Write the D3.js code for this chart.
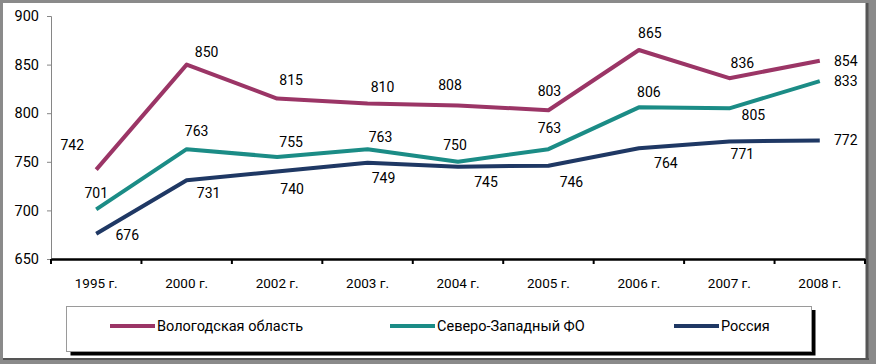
<!DOCTYPE html>
<html lang='ru'>
<head>
<meta charset='UTF-8'>
<title>Вологодская область / Северо-Западный ФО / Россия</title>
<style>
  body { margin: 0; background: #fff; }
  text { font-family: Roboto, 'Open Sans', sans-serif; fill: #000; }
  .val { font-size: 14px; }
  .tick text { font-size: 13.5px; }
  .leg { font-size: 14.5px; }
</style>
<script src='https://d3js.org/d3.v7.min.js'></script>
</head>
<body>
<script>
// data
var years = ['1995 г.', '2000 г.', '2002 г.', '2003 г.', '2004 г.', '2005 г.', '2006 г.', '2007 г.', '2008 г.'];
var vologda = [742, 850, 815, 810, 808, 803, 865, 836, 854];
var szfo = [701, 763, 755, 763, 750, 763, 806, 805, 833];
var russia = [676, 731, 740, 749, 745, 746, 764, 771, 772];
var seriesNames = ['Вологодская область', 'Северо-Западный ФО', 'Россия'];
var yTicks = [650, 700, 750, 800, 850, 900];

// label placement (pixels from the point), kept apart from the values
var offVologda = [[-24, -25], [20, -13], [14, -19], [15, -16], [-8, -20], [1, -19], [11, -17], [13, -15], [26, 0]];
var offSzfo = [[0, -16], [10, -18], [14, -15], [13, -12], [-3, -17], [1, -21], [10, -15], [24, 7], [26, 0]];
var offRussia = [[31, 1], [22, 13], [15, 17], [16, 15], [28, 15], [23, 16], [27, 15], [13, 13], [26, 0]];

var colors = ['#9b3566', '#1b8c86', '#1f3864'];

var W = 876, H = 364;
var svg = d3.select('body').append('svg').attr('width', W).attr('height', H);

// frame
svg.append('rect').attr('width', W).attr('height', H).attr('fill', '#8a8a8a');
svg.append('rect').attr('x', 3).attr('y', 3).attr('width', 865).attr('height', 355).attr('fill', '#fff');
svg.append('line').attr('x1', 867).attr('x2', 867).attr('y1', 3).attr('y2', 359)
  .attr('stroke', '#555').attr('stroke-width', 3);
svg.append('line').attr('x1', 3).attr('x2', 869).attr('y1', 359).attr('y2', 359)
  .attr('stroke', '#555').attr('stroke-width', 2);

var plotLeft = 51, plotRight = 865, plotTop = 16, plotBottom = 259;

var x = d3.scaleBand().domain(years).range([plotLeft, plotRight]);
var y = d3.scaleLinear().domain([650, 900]).range([plotBottom, plotTop]);

// y axis
var ya = svg.append('g').attr('transform', 'translate(' + plotLeft + ',0)')
  .call(d3.axisLeft(y).tickValues(yTicks).tickSize(4).tickPadding(8));
ya.select('.domain').attr('stroke', '#868686');
ya.selectAll('.tick line').attr('stroke', '#868686');
ya.selectAll('.tick text').style('font-size', '14.5px');

// x axis
var xa = svg.append('g').attr('transform', 'translate(0,' + plotBottom + ')')
  .call(d3.axisBottom(x).tickSize(0).tickPadding(19));
xa.select('.domain').attr('stroke', '#000').attr('stroke-width', 2.5);
xa.selectAll('.tick line').remove();
var edges = years.map(function (d) { return x(d); }).concat([x(years[years.length - 1]) + x.bandwidth()]);
xa.selectAll('.edge').data(edges).enter().append('line')
  .attr('x1', function (d) { return d; }).attr('x2', function (d) { return d; })
  .attr('y1', 0).attr('y2', 5).attr('stroke', '#000').attr('stroke-width', 2);

// lines
var cx = function (i) { return x(years[i]) + x.bandwidth() / 2; };
var line = d3.line().x(function (d, i) { return cx(i); }).y(function (d) { return y(d); });

var all = [vologda, szfo, russia];
var offs = [offVologda, offSzfo, offRussia];

all.forEach(function (s, k) {
  svg.append('path').datum(s).attr('d', line)
    .attr('fill', 'none').attr('stroke', colors[k]).attr('stroke-width', 4)
    .attr('stroke-linejoin', 'round');
});

all.forEach(function (s, k) {
  svg.selectAll('.lbl' + k).data(s).enter().append('text')
    .attr('class', 'val')
    .attr('text-anchor', 'middle')
    .attr('dominant-baseline', 'central')
    .attr('x', function (d, i) { return cx(i) + offs[k][i][0]; })
    .attr('y', function (d, i) { return y(d) + offs[k][i][1]; })
    .text(function (d) { return d; });
});

// legend
var lg = svg.append('g');
lg.append('rect').attr('x', 70.5).attr('y', 310).attr('width', 745).attr('height', 45.5).attr('fill', '#000');
lg.append('rect').attr('x', 66.5).attr('y', 306.5).attr('width', 745).attr('height', 45)
  .attr('fill', '#fff').attr('stroke', '#9a9a9a').attr('stroke-width', 1);
var legX = [110, 390, 674];
seriesNames.forEach(function (n, k) {
  lg.append('line').attr('x1', legX[k]).attr('x2', legX[k] + 45).attr('y1', 326).attr('y2', 326)
    .attr('stroke', colors[k]).attr('stroke-width', 4);
  lg.append('text').attr('class', 'leg').attr('x', legX[k] + 47).attr('y', 326)
    .attr('dominant-baseline', 'central').text(n);
});
</script>
</body>
</html>
